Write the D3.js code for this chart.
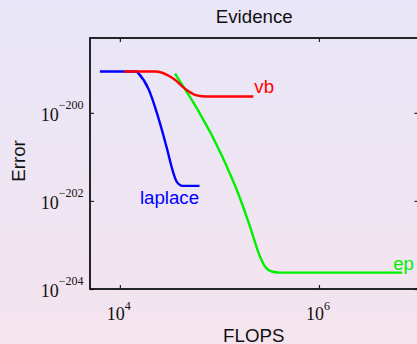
<!DOCTYPE html>
<html lang="en">
<head>
<meta charset="UTF-8">
<title>Evidence</title>
<script src="https://d3js.org/d3.v7.min.js"></script>
<style>
  body { margin: 0; }
</style>
</head>
<body>
<script>

    // FLOPS and error values
    var laplaceX = [6300, 14800, 15100, 19500, 24000, 29500, 33900, 37200, 42700, 63100];
    var laplaceY = [8.7e-200, 8.7e-200, 8.3e-200, 3.4e-200, 8.7e-201, 1.66e-201, 4.9e-202, 2.75e-202, 2.2e-202, 2.2e-202];

    var vbX = [11000, 23100, 34400, 47000, 59200, 74600, 219000];
    var vbY = [8.7e-200, 8.7e-200, 6.0e-200, 3.3e-200, 2.5e-200, 2.35e-200, 2.35e-200];

    var epX = [35800, 105700, 161000, 203000, 256000, 288000, 336000, 407000, 6850000];
    var epY = [7.8e-200, 1.07e-201, 1.15e-202, 2.6e-203, 5.4e-204, 3.2e-204, 2.5e-204, 2.35e-204, 2.35e-204];

    var xTicks = [1e4, 1e6];
    var xTickExp = ["4", "6"];
    var yTicks = [1e-200, 1e-202, 1e-204];
    var yTickExp = ["\u2212200", "\u2212202", "\u2212204"];

    var W = 417, H = 344;
    var pLeft = 90, pTop = 38, pRight = 418.5, pBottom = 289;

    var svg = d3.select("body").append("svg")
        .attr("width", W)
        .attr("height", H);

    var grad = svg.append("defs").append("linearGradient")
        .attr("id", "bg")
        .attr("x1", 0).attr("y1", 0).attr("x2", 0).attr("y2", 1);
    grad.append("stop").attr("offset", "0%").attr("stop-color", "#e8e6f8");
    grad.append("stop").attr("offset", "100%").attr("stop-color", "#f4e4ee");

    svg.append("rect")
        .attr("width", W)
        .attr("height", H)
        .attr("fill", "url(#bg)");

    var x = d3.scaleLog()
        .domain([Math.pow(10, 3.7), 1e7])
        .range([pLeft, pRight]);

    var y = d3.scaleLog()
        .domain([1e-204, Math.pow(10, -198.3)])
        .range([pBottom, pTop]);

    // ticks on all four sides, pointing in
    var axes = [
        [d3.axisBottom(x).tickValues(xTicks), "translate(0," + pBottom + ")"],
        [d3.axisTop(x).tickValues(xTicks), "translate(0," + pTop + ")"],
        [d3.axisLeft(y).tickValues(yTicks), "translate(" + pLeft + ",0)"],
        [d3.axisRight(y).tickValues(yTicks), "translate(" + pRight + ",0)"]
    ];
    axes.forEach(function (a) {
        var g = svg.append("g")
            .attr("transform", a[1])
            .call(a[0].tickSizeInner(-4).tickSizeOuter(0).tickFormat(""));
        g.select(".domain").remove();
        g.selectAll("line").attr("stroke", "#222").attr("stroke-width", 1.2);
    });

    svg.append("rect")
        .attr("x", pLeft)
        .attr("y", pTop)
        .attr("width", pRight - pLeft)
        .attr("height", pBottom - pTop)
        .attr("fill", "none")
        .attr("stroke", "#111")
        .attr("stroke-width", 1.8);

    // tick labels, 10 with a superscript exponent
    var serif = "'Liberation Serif', 'Times New Roman', serif";

    xTicks.forEach(function (t, i) {
        var txt = svg.append("text")
            .attr("x", x(t) - 1)
            .attr("y", pBottom + 30.5)
            .attr("text-anchor", "middle")
            .attr("font-family", serif)
            .attr("font-size", 18)
            .attr("fill", "#111");
        txt.append("tspan").text("10");
        txt.append("tspan").attr("dy", -10).attr("font-size", 12).text(xTickExp[i]);
    });

    yTicks.forEach(function (t, i) {
        var txt = svg.append("text")
            .attr("x", pLeft - 6.5)
            .attr("y", y(t) + 8.3)
            .attr("text-anchor", "end")
            .attr("font-family", serif)
            .attr("font-size", 18)
            .attr("fill", "#111");
        txt.append("tspan").text("10");
        txt.append("tspan").attr("dy", -12.5).attr("font-size", 12).text(yTickExp[i]);
    });

    var sans = "'Liberation Sans', Arial, sans-serif";

    svg.append("text")
        .attr("x", (pLeft + pRight) / 2)
        .attr("y", 23.3)
        .attr("text-anchor", "middle")
        .attr("font-family", sans)
        .attr("font-size", 18.7)
        .attr("fill", "#111")
        .text("Evidence");

    svg.append("text")
        .attr("x", (pLeft + pRight) / 2 - 0.5)
        .attr("y", 341.5)
        .attr("text-anchor", "middle")
        .attr("font-family", sans)
        .attr("font-size", 18.7)
        .attr("fill", "#111")
        .text("FLOPS");

    svg.append("text")
        .attr("transform", "translate(24.5,161) rotate(-90)")
        .attr("text-anchor", "middle")
        .attr("font-family", sans)
        .attr("font-size", 18.7)
        .attr("fill", "#111")
        .text("Error");

    var line = d3.line()
        .x(function (d) { return x(d[0]); })
        .y(function (d) { return y(d[1]); })
        .curve(d3.curveMonotoneX);

    var series = [
        { name: "laplace", xs: laplaceX, ys: laplaceY, color: "#0000ff", dx: -30, dy: 18.5, anchor: "middle" },
        { name: "ep", xs: epX, ys: epY, color: "#00f000", dx: -9, dy: -3, anchor: "start" },
        { name: "vb", xs: vbX, ys: vbY, color: "#ff0000", dx: 1, dy: -3.7, anchor: "start" }
    ];

    series.forEach(function (s) {
        var pts = d3.zip(s.xs, s.ys);
        svg.append("path")
            .datum(pts)
            .attr("d", line)
            .attr("fill", "none")
            .attr("stroke", s.color)
            .attr("stroke-width", 2.4)
            .attr("stroke-linejoin", "round");

        var last = pts[pts.length - 1];
        svg.append("text")
            .attr("x", x(last[0]) + s.dx)
            .attr("y", y(last[1]) + s.dy)
            .attr("text-anchor", s.anchor)
            .attr("font-family", sans)
            .attr("font-size", 18.7)
            .attr("fill", s.color)
            .text(s.name);
    });

</script>
</body>
</html>
